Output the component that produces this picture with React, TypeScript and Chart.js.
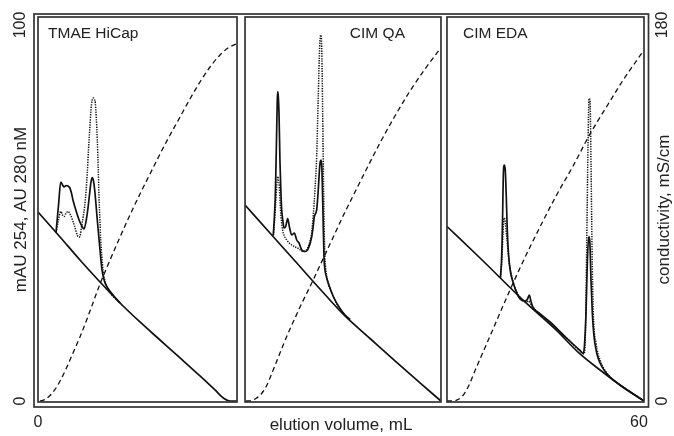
import React, { useEffect, useRef } from "react";
import { Chart, registerables } from "chart.js";

Chart.register(...registerables);

// ---- axis ticks / labels ----
const X_TICKS = [0, 60];
const Y_TICKS = [0, 100];
const Y2_TICKS = [0, 180];
const PANEL_NAMES = ["TMAE HiCap", "CIM QA", "CIM EDA"];
// elution-volume extent of each panel (mL on the shared axis)
const PANEL_RANGES: [number, number][] = [
  [0, 19.87],
  [20.67, 40.23],
  [40.83, 60.5],
];

type P = [number, number];

// ---- TMAE HiCap ----
const TMAE_BASE: P[] = [
  [0, 50.27], [2.2, 43.62], [4.19, 37.5], [6.19, 31.65], [8.19, 26.06], [10.18, 21.01],
  [12.18, 16.22], [14.18, 11.44], [16.17, 6.65], [17.67, 2.93], [18.57, 0.66], [19.17, 0], [19.87, 0],
];
const TMAE_A254: P[] = [
  [1.8, 44.81], [2.05, 52.13], [2.27, 58.24], [2.45, 57.45], [2.6, 56.91], [2.8, 57.31], [3.0, 57.18],
  [3.16, 56.78], [3.34, 55.32], [3.49, 53.46], [3.82, 50.4], [4.16, 47.74], [4.49, 46.01], [4.59, 45.74],
  [4.82, 48.14], [4.99, 51.33], [5.16, 55.32], [5.29, 58.24], [5.42, 59.44], [5.54, 58.51], [5.66, 56.12],
  [5.92, 48.14], [6.16, 41.09], [6.39, 34.84], [6.66, 31.65], [6.99, 29.92], [7.49, 28.19], [8.19, 26.06],
];
const TMAE_A280: P[] = [
  [1.8, 44.81], [2.05, 48.14], [2.27, 50.4], [2.45, 49.47], [2.6, 49.07], [2.8, 50.0], [3.0, 50.4],
  [3.19, 49.73], [3.32, 49.07], [3.66, 46.41], [3.99, 43.75], [4.12, 43.62], [4.24, 44.41], [4.34, 46.28],
  [4.49, 48.67], [4.66, 51.73], [4.79, 55.59], [4.92, 60.64], [5.04, 66.76], [5.16, 72.07], [5.29, 77.39],
  [5.39, 79.79], [5.54, 80.59], [5.64, 80.19], [5.72, 79.26], [5.82, 75.27], [5.92, 69.41], [6.01, 61.97],
  [6.09, 54.39], [6.19, 47.61], [6.26, 42.82], [6.37, 38.56], [6.49, 34.84], [6.66, 32.18], [6.82, 30.72],
  [6.99, 29.79], [7.32, 28.32], [7.79, 27.13], [8.19, 26.06],
];
const TMAE_COND: P[] = [
  [0.2, 0], [0.7, 0.72], [1.2, 2.63], [1.7, 5.51], [2.2, 9.57], [2.7, 14.36], [3.19, 19.63], [3.69, 25.13],
  [4.19, 30.64], [5.19, 43.08], [6.19, 56.01], [7.19, 67.5], [8.19, 78.51], [9.18, 89.04], [10.18, 99.1],
  [11.18, 108.67], [12.18, 118.24], [13.18, 127.34], [14.18, 135.96], [15.17, 144.57], [16.17, 152.71],
  [17.17, 159.89], [18.17, 165.64], [18.97, 168.99], [19.87, 171.14],
];

// ---- CIM QA ----
const QA_BASE: P[] = [
  [20.67, 52.13], [23.16, 44.68], [25.66, 37.23], [28.15, 29.79], [30.65, 22.61], [33.15, 16.62],
  [35.64, 10.64], [38.14, 4.79], [40.23, 0],
];
const QA_A254: P[] = [
  [23.49, 44.02], [23.61, 49.47], [23.69, 54.39], [23.76, 62.77], [23.83, 72.07], [23.89, 80.05],
  [23.94, 82.31], [24.0, 80.59], [24.06, 76.6], [24.16, 63.3], [24.26, 54.79], [24.33, 50.8], [24.46, 47.61],
  [24.56, 46.01], [24.73, 46.41], [24.93, 48.54], [25.09, 46.41], [25.33, 44.15], [25.59, 44.68],
  [25.83, 42.82], [26.06, 42.02], [26.33, 40.16], [26.66, 39.76], [26.99, 40.56], [27.32, 43.62],
  [27.48, 46.54], [27.58, 48.94], [27.82, 50.8], [27.98, 56.12], [28.1, 61.44], [28.2, 63.83], [28.27, 64.1],
  [28.35, 61.44], [28.45, 50.0], [28.55, 38.43], [28.65, 34.84], [28.8, 32.98], [28.98, 31.38],
  [29.48, 27.79], [30.15, 24.6], [30.65, 22.87], [31.15, 21.68],
];
const QA_A280: P[] = [
  [23.49, 44.02], [23.61, 47.61], [23.73, 52.66], [23.84, 57.45], [23.93, 59.71], [24.01, 58.78],
  [24.09, 57.05], [24.16, 53.46], [24.26, 49.07], [24.36, 46.54], [24.49, 44.68], [24.83, 42.82],
  [25.33, 41.49], [25.99, 40.56], [26.49, 39.76], [26.76, 40.03], [26.99, 41.09], [27.16, 42.55],
  [27.32, 44.68], [27.48, 49.47], [27.65, 56.12], [27.82, 65.03], [27.98, 80.98], [28.12, 94.28],
  [28.22, 97.34], [28.32, 94.28], [28.42, 76.6], [28.52, 54.39], [28.62, 40.16], [28.7, 35.9],
  [28.82, 33.11], [29.0, 30.98], [29.32, 28.72], [29.98, 25.13], [30.65, 22.87], [31.15, 21.68],
];
const QA_COND: P[] = [
  [20.77, 0], [21.17, 0], [21.76, 1.2], [22.36, 3.83], [22.86, 7.66], [23.36, 13.4], [23.96, 20.59],
  [24.56, 27.77], [25.16, 34.47], [25.66, 39.73], [26.16, 45.0], [27.45, 57.69], [28.15, 64.87],
  [29.15, 75.16], [30.65, 90.48], [31.65, 100.05], [32.65, 109.63], [34.14, 123.51], [35.64, 136.44],
  [37.14, 148.4], [38.64, 158.94], [40.13, 168.51],
];

// ---- CIM EDA ----
const EDA_BASE: P[] = [
  [40.83, 46.41], [44.13, 38.03], [48.62, 26.33], [51.62, 19.15], [54.11, 12.5], [56.11, 8.24],
  [58.1, 4.26], [60.5, 0],
];
const EDA_A254: P[] = [
  [46.17, 32.85], [46.27, 36.97], [46.32, 41.09], [46.39, 50.0], [46.45, 59.57], [46.55, 62.77],
  [46.65, 61.44], [46.75, 54.39], [46.85, 45.48], [46.99, 38.43], [47.19, 34.04], [47.45, 31.38],
  [47.79, 28.72], [48.12, 27.13], [48.62, 26.6], [48.85, 26.99], [49.05, 28.19], [49.22, 26.46],
  [49.45, 24.73], [49.95, 23.54], [51.12, 21.01], [52.61, 17.15], [54.11, 13.43], [54.44, 12.63],
  [54.56, 14.89], [54.71, 23.4], [54.84, 36.7], [54.98, 43.75], [55.08, 42.82], [55.21, 32.18],
  [55.34, 23.4], [55.51, 17.15], [55.78, 12.77], [56.11, 10.11], [56.61, 7.85], [57.11, 6.38],
  [58.1, 4.26], [60.5, 0],
];
const EDA_A280: P[] = [
  [46.17, 32.85], [46.32, 38.03], [46.42, 44.15], [46.52, 48.67], [46.62, 48.14], [46.79, 43.75],
  [47.05, 36.7], [47.39, 32.18], [47.79, 29.12], [48.29, 26.99], [48.72, 26.33], [48.97, 26.6],
  [49.17, 25.8], [49.62, 24.34], [51.12, 20.88], [52.61, 17.15], [54.11, 13.3], [54.51, 12.5],
  [54.66, 18.88], [54.78, 41.09], [54.91, 67.69], [55.01, 80.45], [55.11, 80.05], [55.21, 63.3],
  [55.31, 41.09], [55.44, 23.4], [55.71, 15.43], [56.11, 10.9], [56.78, 7.45], [57.31, 5.85],
  [58.1, 4.26], [60.5, 0],
];
const EDA_COND: P[] = [
  [40.83, 0], [41.43, 0], [41.93, 0.72], [42.33, 2.15], [42.73, 4.79], [43.13, 8.62], [43.53, 13.4],
  [44.13, 20.11], [45.13, 31.12], [46.12, 42.13], [47.12, 53.14], [48.12, 63.67], [49.12, 73.72],
  [50.42, 86.17], [51.72, 98.14], [53.42, 112.5], [55.11, 127.82], [56.81, 141.22], [58.42, 153.67],
  [59.52, 161.33], [60.5, 168.03],
];

const PANELS = [
  { base: TMAE_BASE, a254: TMAE_A254, a280: TMAE_A280, cond: TMAE_COND },
  { base: QA_BASE, a254: QA_A254, a280: QA_A280, cond: QA_COND },
  { base: EDA_BASE, a254: EDA_A254, a280: EDA_A280, cond: EDA_COND },
];

const FONT = '"Liberation Sans", Arial, Helvetica, sans-serif';
const INK = "#111";
const TEXT = "#222";
const FRAME = "#333";

const toXY = (pts: P[]) => pts.map(([x, y]) => ({ x, y }));

const framePlugin = {
  id: "panelFrames",
  afterDatasetsDraw(chart: any) {
    const { ctx, chartArea: a, scales } = chart;
    const xs = scales.x;
    ctx.save();
    ctx.strokeStyle = FRAME;
    ctx.lineWidth = 1.7;
    // outer box
    ctx.strokeRect(a.left - 4, a.top - 3, a.right - a.left + 8.5, a.bottom - a.top + 8);
    // panel boxes
    const edges = PANEL_RANGES.map(([s, e]) => [xs.getPixelForValue(s), xs.getPixelForValue(e)]);
    edges.forEach(([l, r]) => ctx.strokeRect(l, a.top, r - l, a.bottom - a.top));
    // panel names
    ctx.fillStyle = TEXT;
    ctx.font = `15.5px ${FONT}`;
    ctx.textBaseline = "alphabetic";
    const by = a.top + 21.3;
    ctx.textAlign = "left";
    ctx.fillText(PANEL_NAMES[0], edges[0][0] + 10, by);
    ctx.textAlign = "right";
    ctx.fillText(PANEL_NAMES[1], edges[1][1] - 36, by);
    ctx.textAlign = "left";
    ctx.fillText(PANEL_NAMES[2], edges[2][0] + 16, by);
    // right axis title (reads bottom-to-top)
    ctx.font = `17px ${FONT}`;
    ctx.translate(a.right + 20, (a.top + a.bottom) / 2);
    ctx.rotate(-Math.PI / 2);
    ctx.textAlign = "center";
    ctx.textBaseline = "middle";
    ctx.fillText("conductivity, mS/cm", 0, 0);
    ctx.restore();
  },
};

export default function App() {
  const ref = useRef<HTMLCanvasElement | null>(null);

  useEffect(() => {
    if (!ref.current) return;
    Chart.defaults.font.family = FONT;
    const datasets: any[] = [];
    PANELS.forEach((p) => {
      datasets.push({
        data: toXY(p.cond), yAxisID: "y2", borderColor: INK, borderWidth: 1.3,
        borderDash: [5, 3.5], pointRadius: 0, cubicInterpolationMode: "monotone",
      });
      datasets.push({
        data: toXY(p.base), yAxisID: "y", borderColor: INK, borderWidth: 1.7,
        pointRadius: 0, cubicInterpolationMode: "monotone",
      });
      datasets.push({
        data: toXY(p.a254), yAxisID: "y", borderColor: INK, borderWidth: 1.7,
        pointRadius: 0, cubicInterpolationMode: "monotone",
      });
      datasets.push({
        data: toXY(p.a280), yAxisID: "y", borderColor: INK, borderWidth: 1.5,
        borderDash: [1.3, 1.2], pointRadius: 0, cubicInterpolationMode: "monotone",
      });
    });

    const chart = new Chart(ref.current, {
      type: "line",
      data: { datasets },
      options: {
        animation: false,
        responsive: false,
        devicePixelRatio: 1,
        layout: { padding: { top: 17, left: 0, right: 0, bottom: 0 } },
        plugins: { legend: { display: false }, tooltip: { enabled: false } },
        scales: {
          x: {
            type: "linear", min: 0, max: 60.5,
            afterBuildTicks: (s: any) => { s.ticks = X_TICKS.map((v) => ({ value: v })); },
            afterFit: (s: any) => { s.height = 34; },
            grid: { display: false, drawTicks: false },
            border: { display: false },
            ticks: { padding: 11, font: { size: 16 }, color: TEXT, maxRotation: 0, autoSkip: false },
            title: {
              display: true, text: "elution volume, mL", font: { size: 17 }, color: TEXT,
              padding: { top: 0, bottom: 0 },
            },
          },
          y: {
            type: "linear", position: "left", min: -0.27, max: 102.13,
            afterBuildTicks: (s: any) => { s.ticks = Y_TICKS.map((v) => ({ value: v })); },
            afterFit: (s: any) => { s.width = 38; },
            grid: { display: false, drawTicks: false },
            border: { display: false },
            ticks: {
              minRotation: 90, maxRotation: 90, crossAlign: "center", padding: 3.7,
              font: { size: 16 }, color: TEXT, autoSkip: false,
            },
            title: {
              display: true, text: "mAU 254, AU 280 nM", font: { size: 17 }, color: TEXT,
              padding: { top: 10.8, bottom: 0 },
            },
          },
          y2: {
            type: "linear", position: "right", min: -0.48, max: 183.83,
            afterBuildTicks: (s: any) => { s.ticks = Y2_TICKS.map((v) => ({ value: v })); },
            afterFit: (s: any) => { s.width = 30; },
            grid: { display: false, drawTicks: false },
            border: { display: false },
            ticks: {
              minRotation: 90, maxRotation: 90, crossAlign: "center", padding: 5.7,
              font: { size: 16 }, color: TEXT, autoSkip: false,
            },
          },
        },
      },
      plugins: [framePlugin],
    } as any);
    return () => chart.destroy();
  }, []);

  return (
    <div style={{ position: "fixed", left: 0, top: 0, width: 674, height: 436, background: "#fff" }}>
      <canvas ref={ref} width={674} height={436} style={{ display: "block" }} />
    </div>
  );
}
